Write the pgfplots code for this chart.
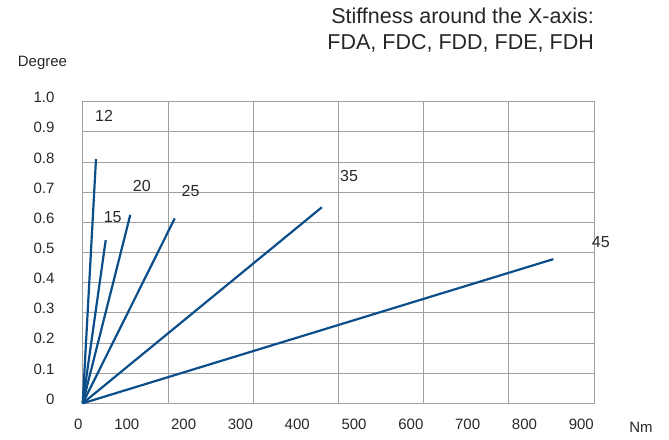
\documentclass[border=0pt]{standalone}
\usepackage{fontspec}
\setmainfont{Liberation Sans}
\usepackage{pgfplots}
\pgfplotsset{compat=1.18}
\definecolor{lineblue}{RGB}{12,78,138}
\definecolor{gridgray}{RGB}{160,160,160}
\definecolor{txt}{RGB}{40,40,40}
\begin{document}
\begin{tikzpicture}
\path (0pt,0pt) rectangle (669pt,439pt);
\begin{axis}[
  at={(82.7pt,35.7pt)}, anchor=south west, scale only axis,
  width=511.3pt, height=301.6pt,
  xmin=0, xmax=900, ymin=0, ymax=1,
  xtick={0,100,200,300,400,500,600,700,800,900},
  xticklabels={0,100,200,300,400,500,600,700,800,900},
  ytick={0,0.1,0.2,0.3,0.4,0.5,0.6,0.7,0.8,0.9,1},
  yticklabels={0,0.1,0.2,0.3,0.4,0.5,0.6,0.7,0.8,0.9,1.0},
  minor xtick={150,300,450,600,750},
  major tick length=0pt, minor tick length=0pt,
  xminorgrids=true, ymajorgrids=true, xmajorgrids=false,
  grid style={gridgray, line width=0.8pt},
  minor grid style={gridgray, line width=0.8pt},
  axis line style={gridgray, line width=0.8pt},
  tick label style={font=\fontsize{15}{18}\selectfont, text=txt},
  xticklabel style={anchor=north east, inner sep=0pt, yshift=-16pt},
  yticklabel style={anchor=base east, inner sep=0pt, xshift=-28pt, yshift=-1pt},
  clip=false,
]
\addplot[lineblue, line width=2.2pt] coordinates {(0,0) (23.4,0.81)};
\addplot[lineblue, line width=2.2pt] coordinates {(0,0) (40.5,0.541)};
\addplot[lineblue, line width=2.2pt] coordinates {(0,0) (83.8,0.625)};
\addplot[lineblue, line width=2.2pt] coordinates {(0,0) (162,0.613)};
\addplot[lineblue, line width=2.2pt] coordinates {(0,0) (421,0.65)};
\addplot[lineblue, line width=2.2pt] coordinates {(0,0) (828.5,0.478)};
\begin{scope}[every node/.style={font=\fontsize{16}{19}\selectfont, text=txt, inner sep=0pt}]
\node at (axis cs:37.5,0.953) {12};
\node at (axis cs:52.8,0.619) {15};
\node at (axis cs:104,0.722) {20};
\node at (axis cs:190,0.705) {25};
\node at (axis cs:469,0.754) {35};
\node at (axis cs:912,0.536) {45};
\end{scope}
\end{axis}
\node[font=\fontsize{15}{18}\selectfont, text=txt] at (42.5pt,376.5pt) {Degree};
\node[font=\fontsize{15}{18}\selectfont, text=txt] at (641pt,12pt) {Nm};
\node[anchor=north east, align=right, inner sep=0pt, font=\fontsize{21.5}{26}\selectfont, text=black!85] at (594pt,431pt) {Stiffness around the X-axis:\\FDA, FDC, FDD, FDE, FDH};
\end{tikzpicture}
\end{document}
